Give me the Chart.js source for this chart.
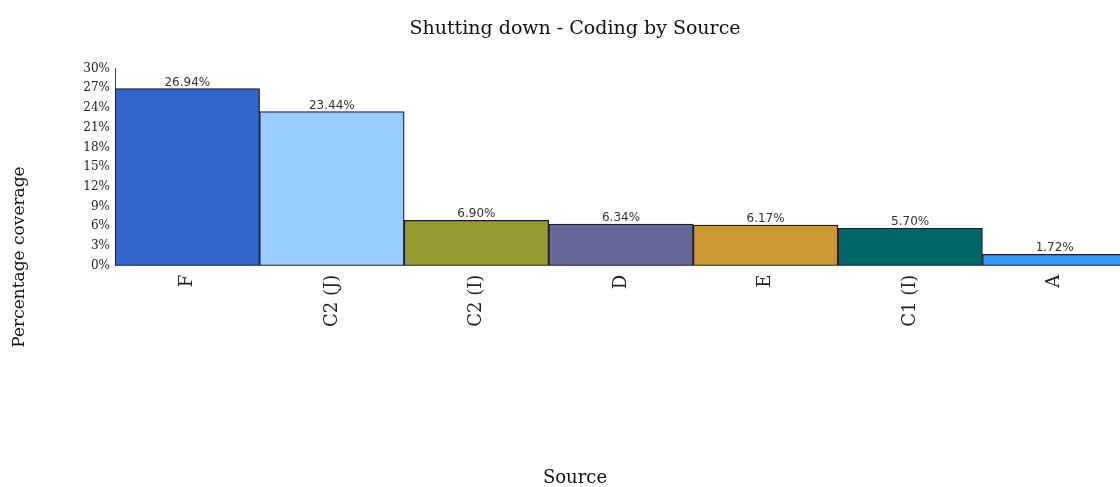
<!DOCTYPE html>
<html>
<head>
<meta charset="utf-8">
<script src="https://cdn.jsdelivr.net/npm/chart.js@4/dist/chart.umd.min.js"></script>
<style>
  html,body{margin:0;padding:0;background:#fff;overflow:hidden}
  canvas{display:block}
</style>
</head>
<body>
<canvas id="chart" width="1150" height="487"></canvas>
<script>
/* ===== data ===== */
const TITLE = 'Shutting down - Coding by Source';
const X_TITLE = 'Source', Y_TITLE = 'Percentage coverage';
const sources = ['F','C2 (J)','C2 (I)','D','E','C1 (I)','A'];
const coverage = [26.94, 23.44, 6.90, 6.34, 6.17, 5.70, 1.72];
const barColors = ['#3366CC','#99CCFF','#999933','#666699','#CC9933','#006666','#3399FF'];
const Y_MIN = 0, Y_MAX = 30, Y_STEP = 3;

const SERIF = '"DejaVu Serif", serif', SANS = '"DejaVu Sans", sans-serif';

// 標題、軸標題、數值標籤
const textPlugin = {
  id:'texts',
  afterDatasetsDraw(chart){
    const {ctx, width} = chart;
    const meta = chart.getDatasetMeta(0);
    ctx.save();
    // value labels
    ctx.font = '12px ' + SANS; ctx.fillStyle = '#333';
    ctx.textAlign = 'center'; ctx.textBaseline = 'alphabetic';
    meta.data.forEach((bar,i)=> ctx.fillText(coverage[i].toFixed(2)+'%', bar.x, bar.y-3));
    // title
    ctx.fillStyle = '#111'; ctx.textBaseline = 'middle';
    ctx.font = '19px ' + SERIF;
    ctx.fillText(TITLE, width/2, 29);
    // x title
    ctx.font = '18px ' + SERIF;
    ctx.fillText(X_TITLE, width/2, 478);
    // y title
    ctx.translate(20, 257); ctx.rotate(-Math.PI/2);
    ctx.font = '17px ' + SERIF;
    ctx.fillText(Y_TITLE, 0, 0);
    ctx.restore();
  }
};

new Chart(document.getElementById('chart'), {
  type:'bar',
  data:{
    labels: sources,
    datasets:[{
      data: coverage,
      backgroundColor: barColors,
      borderColor:'#1c1c28',
      borderWidth:1.3,
      borderSkipped:false,
      categoryPercentage:1,
      barPercentage:1
    }]
  },
  options:{
    responsive:false, animation:false,
    layout:{padding:{left:0, right:23, top:68.5, bottom:0}},
    plugins:{legend:{display:false}, tooltip:{enabled:false}},
    scales:{
      x:{
        grid:{display:false, drawTicks:false, tickLength:0},
        border:{display:false},
        ticks:{color:'#222', font:{family:SERIF, size:18}, minRotation:90, maxRotation:90, padding:9, autoSkip:false},
        afterFit: s=>{ s.height = 221.3; }
      },
      y:{
        min:Y_MIN, max:Y_MAX,
        grid:{display:false, drawTicks:false, tickLength:0},
        border:{display:true, color:'#444', width:1},
        ticks:{stepSize:Y_STEP, color:'#222', font:{family:SERIF, size:12}, padding:5, callback:v=>v+'%'},
        afterFit: s=>{ s.width = 115; }
      }
    }
  },
  plugins:[textPlugin]
});
</script>
</body>
</html>
